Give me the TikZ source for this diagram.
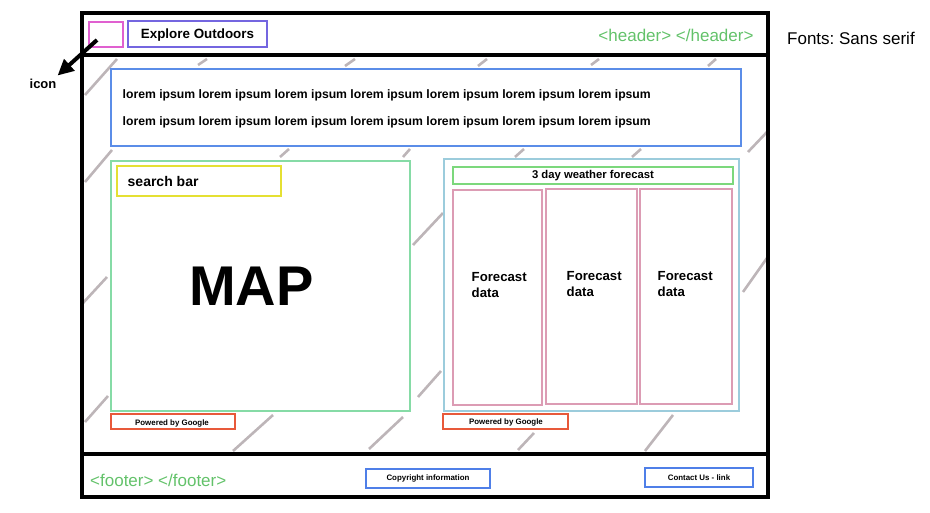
\documentclass[tikz,border=0pt]{standalone}
\usepackage{fontspec}
\setmainfont{Liberation Sans}
\usetikzlibrary{arrows.meta}
\frenchspacing
\definecolor{iconpink}{HTML}{E060D0}
\definecolor{titlepurple}{HTML}{7466E0}
\definecolor{htmlgreen}{HTML}{63C26A}
\definecolor{loremblue}{HTML}{5B8DE8}
\definecolor{mapgreen}{HTML}{86DBA6}
\definecolor{searchyellow}{HTML}{E5E033}
\definecolor{googlered}{HTML}{E8593A}
\definecolor{fcblue}{HTML}{9CCCDC}
\definecolor{daygreen}{HTML}{7CD87C}
\definecolor{colpink}{HTML}{DC9CB4}
\definecolor{footblue}{HTML}{4F7FE8}
\definecolor{hatchgrey}{HTML}{BDB5B8}
\tikzset{
  frame/.style={draw=black, line width=3.2pt, inner sep=0pt, rectangle},
  wbox/.style={draw, fill=white, line width=2.8pt, inner sep=0pt, rectangle},
  hatch/.style={draw=hatchgrey, line width=2.6pt},
  txt/.style={inner sep=0pt, text=black},
  boldtxt/.style={txt, font=\bfseries\fontsize{#1}{#1}\selectfont},
  greentxt/.style={inner sep=0pt, text=htmlgreen, font=\fontsize{17}{17}\selectfont},
  pointer/.style={draw=black, line width=4pt, -{Triangle[length=16pt,width=15pt]}},
}
\begin{document}
\begin{tikzpicture}[x=1pt,y=-1pt]
\useasboundingbox (0,0) rectangle (930,513);
% hatching
\foreach \ax/\ay/\bx/\by in {85/95/117/59, 198/65/207/59, 345/66/355/59, 478/66/487/59,
  591/65/599/59, 708/66/716/59, 748/152/767/132, 85/182/112/150, 280/157/289/149,
  403/157/410/149, 515/157/524/149, 632/157/641/149, 413/245/443/213, 418/397/441/371,
  743/292/767/258, 83/303/107/277, 85/422/108/396, 233/451/273/415, 369/449/403/417,
  518/450/534/433, 645/451/673/415}
  \draw[hatch] (\ax,\ay) -- (\bx,\by);
% frame
\node[frame, minimum width=686pt, minimum height=42pt] (header) at (425,34) {};
\node[frame, minimum width=686pt, minimum height=399pt] (body) at (425,254.5) {};
\node[frame, minimum width=686pt, minimum height=43pt] (footer) at (425,475.5) {};
% header
\node[wbox, draw=iconpink, minimum width=34pt, minimum height=25pt] (iconbox) at (106,34.5) {};
\node[wbox, draw=titlepurple, minimum width=139pt, minimum height=26pt] (titlebox) at (197.5,34) {};
\node[boldtxt=13.4] (title) at (197.5,35) {Explore Outdoors};
\node[greentxt] (headertxt) at (676,35.5) {<header> </header>};
\node[txt, anchor=west, font=\fontsize{17}{17}\selectfont] (fontnote) at (787,38) {Fonts: Sans serif};
\node[boldtxt=13] (iconlabel) at (43,83.5) {icon};
\coordinate (arrowstart) at (97,40);
\draw[pointer] (arrowstart) -- ([xshift=1pt,yshift=3pt]iconlabel.north east);
% lorem
\node[wbox, draw=loremblue, minimum width=630pt, minimum height=77pt] (lorembox) at (426,107.5) {};
\node[boldtxt=12.2, anchor=west] (lorem1) at (122.5,95) {lorem ipsum lorem ipsum lorem ipsum lorem ipsum lorem ipsum lorem ipsum lorem ipsum};
\node[boldtxt=12.2, anchor=west] (lorem2) at (122.5,122.5) {lorem ipsum lorem ipsum lorem ipsum lorem ipsum lorem ipsum lorem ipsum lorem ipsum};
% map
\node[wbox, draw=mapgreen, minimum width=299pt, minimum height=250pt] (mapbox) at (260.5,286) {};
\node[wbox, draw=searchyellow, minimum width=164pt, minimum height=30pt] (searchbox) at (199,181) {};
\node[boldtxt=14, anchor=west] (searchtxt) at (127.5,181) {search bar};
\node[boldtxt=56] (maptxt) at (251.5,286) {MAP};
\node[wbox, draw=googlered, minimum width=124pt, minimum height=15pt] (gleft) at (173,421.5) {};
\node[boldtxt=7.9] (glefttxt) at (172,423) {Powered by Google};
% forecast
\node[wbox, draw=fcblue, minimum width=295pt, minimum height=252pt] (fcbox) at (591.5,285) {};
\node[wbox, draw=daygreen, minimum width=280pt, minimum height=17pt] (daybox) at (593,175.5) {};
\node[boldtxt=11.3] (daytxt) at (593,175.5) {3 day weather forecast};
\node[wbox, draw=colpink, minimum width=89pt, minimum height=215pt] (col1) at (497.5,297.5) {};
\node[wbox, draw=colpink, minimum width=91pt, minimum height=215pt] (col2) at (591.5,296.5) {};
\node[wbox, draw=colpink, minimum width=92pt, minimum height=215pt] (col3) at (686,296.5) {};
\node[txt, anchor=north west, align=left, font=\bfseries\fontsize{13.2}{16}\selectfont] (fc1) at (471.5,272.5) {Forecast\\data};
\node[txt, anchor=north west, align=left, font=\bfseries\fontsize{13.2}{16}\selectfont] (fc2) at (566.5,271.5) {Forecast\\data};
\node[txt, anchor=north west, align=left, font=\bfseries\fontsize{13.2}{16}\selectfont] (fc3) at (657.5,271.5) {Forecast\\data};
\node[wbox, draw=googlered, minimum width=125pt, minimum height=15pt] (gright) at (505.5,421.5) {};
\node[boldtxt=7.9] (grighttxt) at (506,422.5) {Powered by Google};
% footer
\node[greentxt, anchor=west] (footertxt) at (90,480.5) {<footer> </footer>};
\node[wbox, draw=footblue, minimum width=124pt, minimum height=19pt] (copybox) at (428,478.5) {};
\node[boldtxt=7.9] (copytxt) at (428,478.5) {Copyright information};
\node[wbox, draw=footblue, minimum width=108pt, minimum height=19pt] (contactbox) at (699,477.5) {};
\node[boldtxt=7.9] (contacttxt) at (699,478) {Contact Us - link};
\end{tikzpicture}
\end{document}
